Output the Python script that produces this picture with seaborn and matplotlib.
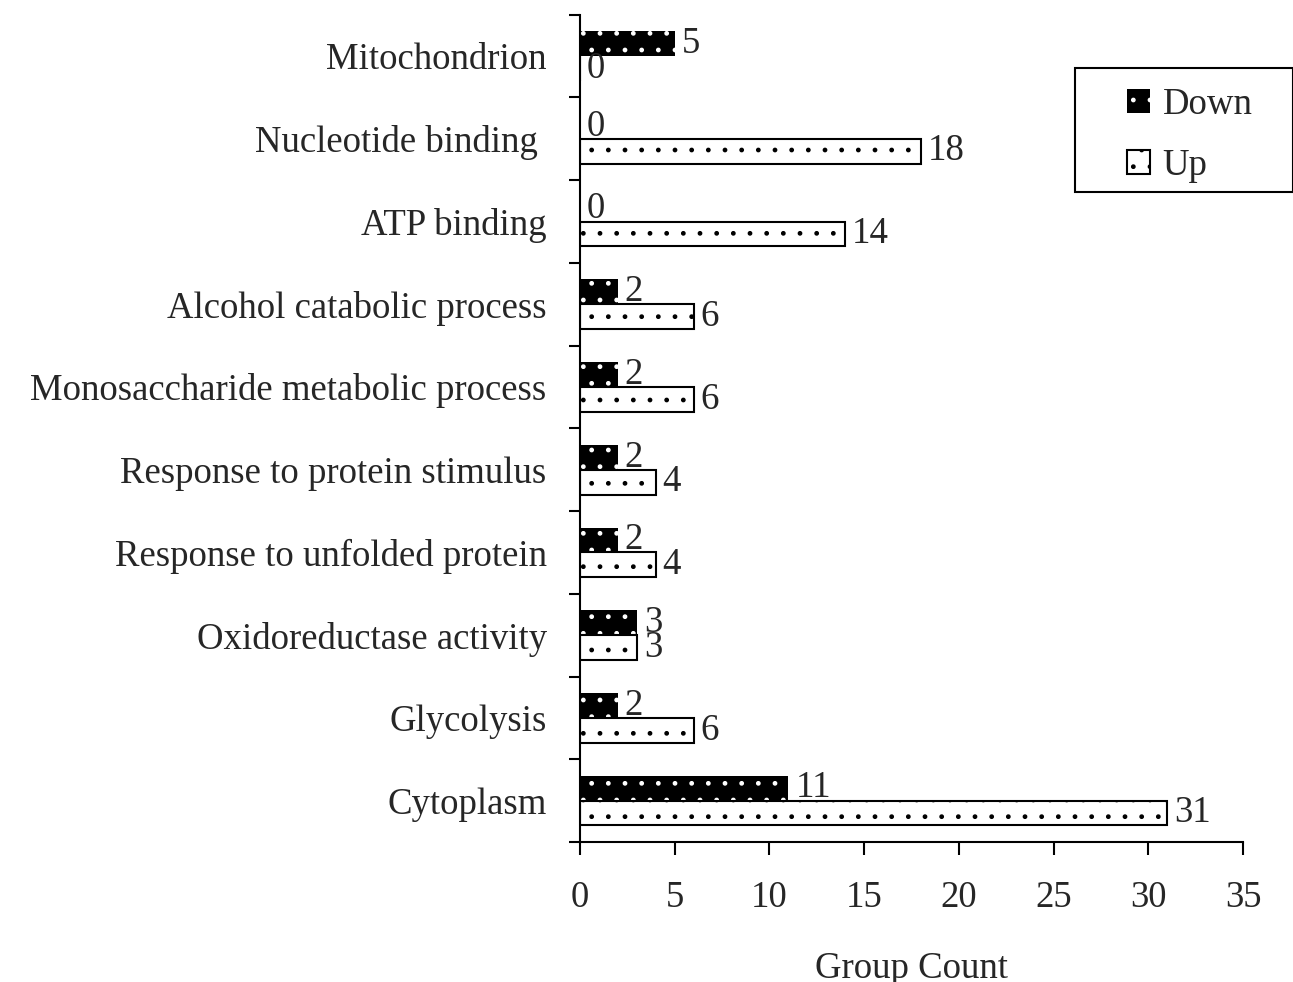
import pandas as pd
import numpy as np
import matplotlib.pyplot as plt
from matplotlib.patches import Patch, Rectangle
import seaborn as sns

sns.set_theme(style="ticks")
plt.rcParams['font.family'] = ['Liberation Serif', 'DejaVu Serif']
plt.rcParams['hatch.linewidth'] = 1.0

categories = ['Mitochondrion', 'Nucleotide binding ', 'ATP binding',
              'Alcohol catabolic process', 'Monosaccharide metabolic process',
              'Response to protein stimulus', 'Response to unfolded protein',
              'Oxidoreductase activity', 'Glycolysis', 'Cytoplasm']
down = [5, 0, 0, 2, 2, 2, 2, 3, 2, 11]
up = [0, 18, 14, 6, 6, 4, 4, 3, 6, 31]
groups = ['Down', 'Up']
xticks = [0, 5, 10, 15, 20, 25, 30, 35]

df = pd.DataFrame({'category': categories * 2,
                   'count': down + up,
                   'direction': ['Down'] * len(down) + ['Up'] * len(up)})

fs = 26.5

fig = plt.figure(figsize=(12.93, 9.82), dpi=100)
ax = fig.add_axes([0.4486, 0.1426, 0.5127, 0.8424])

sns.barplot(data=df, y='category', x='count', hue='direction', hue_order=groups,
            order=categories, orient='h', width=0.6, gap=0, ax=ax, legend=False)

# black bars with white dots / white bars with black dots
styles = {'Down': dict(facecolor='black', edgecolor='white', linewidth=0),
          'Up': dict(facecolor='white', edgecolor='black', linewidth=1.5)}
for cont, g in zip(ax.containers, groups):
    for p in cont:
        p.set_facecolor(styles[g]['facecolor'])
        p.set_edgecolor(styles[g]['edgecolor'])
        p.set_linewidth(styles[g]['linewidth'])
        p.set_hatch('.')
    ax.bar_label(cont, padding=5, fontsize=fs)

ax.set_xlim(0, 35)
ax.set_ylim(len(categories) - 0.5, -0.5)
ax.set_xticks(xticks)
ax.set_xticklabels([str(t) for t in xticks], fontsize=fs)
ax.set_yticks(range(len(categories)))
ax.set_yticklabels(categories, fontsize=fs)
ax.set_yticks(np.arange(-0.5, len(categories), 1), minor=True)
ax.tick_params(axis='y', which='major', length=0, pad=24)
ax.tick_params(axis='y', which='minor', length=8, width=1.5, color='black')
ax.tick_params(axis='x', length=9, width=1.5, color='black', pad=19)
ax.set_ylabel('')
ax.set_xlabel('Group Count', fontsize=fs, labelpad=26)

sns.despine(ax=ax)
for s in ['left', 'bottom']:
    ax.spines[s].set_linewidth(1.5)
    ax.spines[s].set_color('black')

# legend box drawn separately so it can be wider than its content
fig.patches.append(Rectangle((0.8314, 0.8045), 0.1686, 0.1263, transform=fig.transFigure,
                             facecolor='white', edgecolor='black', linewidth=1.5))
handles = [Patch(label=g, hatch='.', **styles[g]) for g in groups]
fig.legend(handles=handles, loc='upper left', bbox_to_anchor=(0.872, 0.911),
           fontsize=fs, frameon=False, handlelength=0.6, handleheight=0.6,
           handletextpad=0.35, borderpad=0, labelspacing=0.72, borderaxespad=0)

fig.savefig('out.png', dpi=100)
